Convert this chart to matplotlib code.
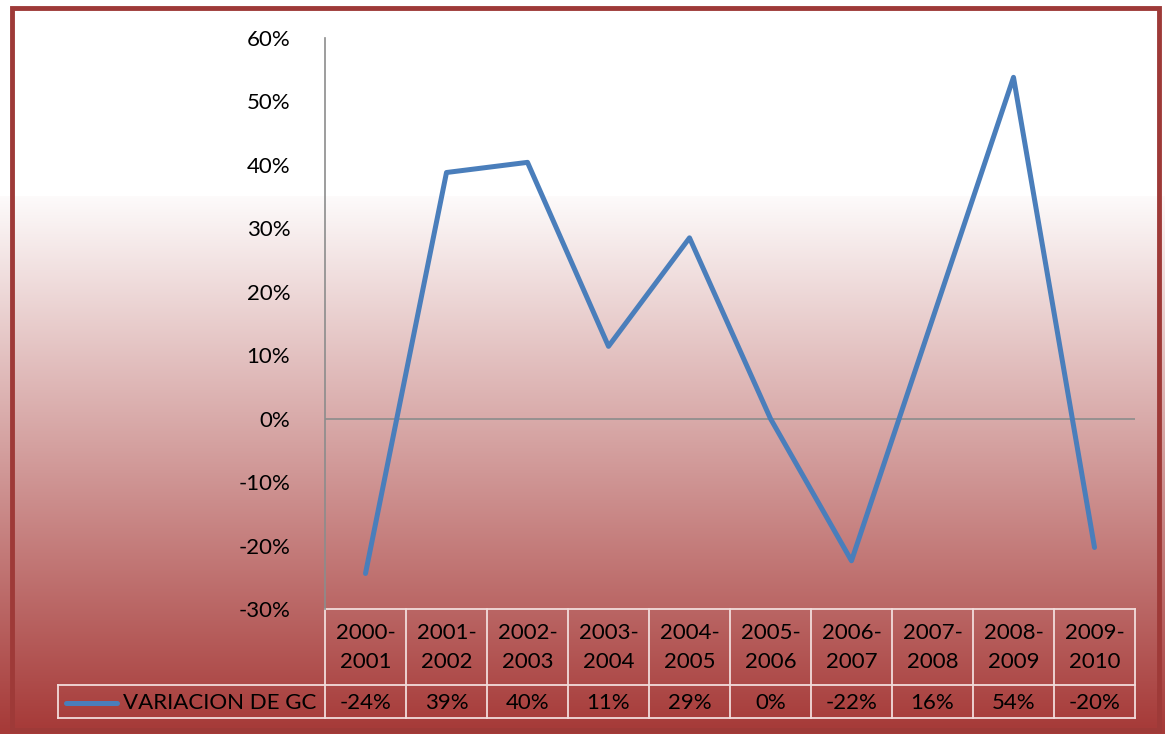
import numpy as np
import matplotlib
matplotlib.use("Agg")
import matplotlib.pyplot as plt
from matplotlib.patches import Rectangle
from matplotlib.lines import Line2D
import matplotlib.transforms as mtransforms

categories = ["2000-\n2001", "2001-\n2002", "2002-\n2003", "2003-\n2004", "2004-\n2005",
              "2005-\n2006", "2006-\n2007", "2007-\n2008", "2008-\n2009", "2009-\n2010"]
values = [-24.4, 38.8, 40.4, 11.4, 28.5, 0.0, -22.4, 15.7, 53.8, -20.3]
table_labels = ["-24%", "39%", "40%", "11%", "29%", "0%", "-22%", "16%", "54%", "-20%"]
series_name = "VARIACION DE GC"
yticks = [-30, -20, -10, 0, 10, 20, 30, 40, 50, 60]

W, H = 1165, 734
fig = plt.figure(figsize=(W / 100, H / 100), dpi=100)
plt.rcParams['font.family'] = ['Lato', 'DejaVu Sans']
FS = 16

# background gradient
bg = fig.add_axes([0, 0, 1, 1], zorder=-10)
bg.set_axis_off()
ys = np.arange(H)
top_c = np.array([255, 255, 255]) / 255
bot_c = np.array([166, 58, 56]) / 255
f = np.clip((ys - 195) / (730 - 195), 0, 1)
f = np.where(ys > 195, 0.02 + 0.98 * f, 0)
grad = top_c[None, :] * (1 - f[:, None]) + bot_c[None, :] * f[:, None]
img = np.repeat(grad[:, None, :], 2, axis=1)
bg.imshow(img, aspect='auto', extent=[0, W, H, 0])
bg.set_xlim(0, W)
bg.set_ylim(H, 0)
bg.add_patch(Rectangle((12, 8), 1147, 722, fill=False, edgecolor='#9E3A38', linewidth=3.5))

# main axes
x0, x1, ytop, ybot = 325, 1135, 38, 609
ax = fig.add_axes([x0 / W, 1 - ybot / H, (x1 - x0) / W, (ybot - ytop) / H])
ax.patch.set_alpha(0)
xs = np.arange(len(values))
ax.plot(xs, values, color='#4A7EBB', linewidth=3.6, solid_capstyle='round', zorder=3)
ax.set_xlim(-0.5, len(values) - 0.5)
ax.set_ylim(-30, 60)
ax.axhline(0, color='#8C8C8C', linewidth=1.2, zorder=1)
for s in ['top', 'right', 'bottom']:
    ax.spines[s].set_visible(False)
ax.spines['left'].set_color('#8C8C8C')
ax.spines['left'].set_linewidth(1.2)
ax.set_xticks([])
ax.set_yticks(yticks)
ax.set_yticklabels([f"{v}%" for v in yticks], fontsize=FS)
ax.tick_params(axis='y', length=0, pad=25)

# data table
tr = mtransforms.blended_transform_factory(ax.transData, ax.transAxes)
ah = ybot - ytop
def ya(py):
    return -(py - ybot) / ah

lc = '#F2DCDB'
lw = 1.3
n = len(values)
left_leg = -0.5 + (58 - x0) / ((x1 - x0) / n)
for k in range(n + 1):
    ax.add_line(Line2D([k - 0.5, k - 0.5], [0, ya(718)], transform=tr, color=lc, lw=lw, clip_on=False))
ax.add_line(Line2D([-0.5, n - 0.5], [0, 0], transform=tr, color=lc, lw=lw, clip_on=False))
for py in (685, 718):
    ax.add_line(Line2D([left_leg, n - 0.5], [ya(py), ya(py)], transform=tr, color=lc, lw=lw, clip_on=False))
ax.add_line(Line2D([left_leg, left_leg], [ya(685), ya(718)], transform=tr, color=lc, lw=lw, clip_on=False))

for i, (c, t) in enumerate(zip(categories, table_labels)):
    a, b = c.split("\n")
    ax.text(i, ya(633), a, transform=tr, ha='center', va='center', fontsize=FS, clip_on=False)
    ax.text(i, ya(662), b, transform=tr, ha='center', va='center', fontsize=FS, clip_on=False)
    ax.text(i, ya(703), t, transform=tr, ha='center', va='center', fontsize=FS, clip_on=False)

px = (x1 - x0) / n
ax.add_line(Line2D([-0.5 + (66 - x0) / px, -0.5 + (117 - x0) / px], [ya(703), ya(703)], transform=tr,
                   color='#4A7EBB', lw=3.6, solid_capstyle='round', clip_on=False))
ax.text(-0.5 + (123 - x0) / px, ya(703), series_name, transform=tr, ha='left', va='center',
        fontsize=FS, clip_on=False)

fig.savefig("out.png", dpi=100)
